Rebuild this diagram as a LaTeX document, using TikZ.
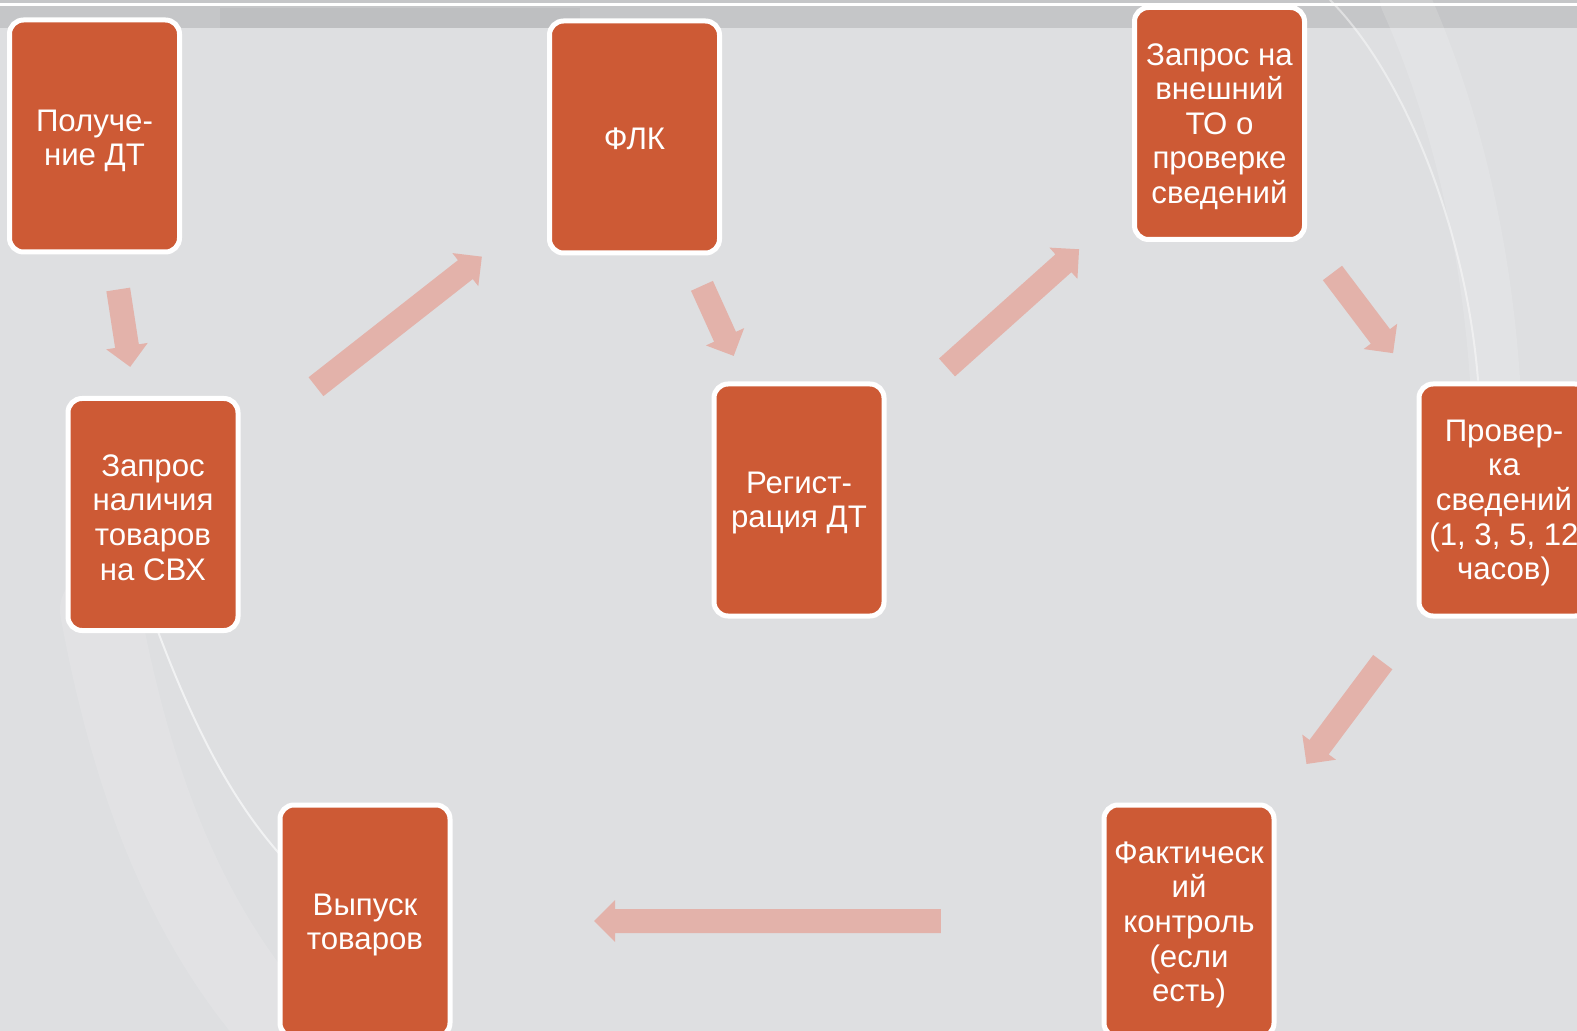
\documentclass[tikz,border=0pt]{standalone}
\usepackage{fontspec}
\setmainfont{Liberation Sans}
\usetikzlibrary{calc}
\definecolor{bg}{HTML}{DEDFE1}
\definecolor{boxc}{HTML}{CD5A35}
\definecolor{arr}{HTML}{E3B2AA}
\definecolor{strip}{HTML}{C5C6C8}
\newcommand\blockarrow[2]{%
  \fill[arr] let \p1=($(#2)-(#1)$), \n1={atan2(\y1,\x1)} in
    ($(#1)+(\n1+90:6pt)$) --
    ($(#2)+(\n1+180:10.5pt)+(\n1+90:6pt)$) --
    ($(#2)+(\n1+180:10.5pt)+(\n1+90:10.5pt)$) --
    (#2) --
    ($(#2)+(\n1+180:10.5pt)+(\n1-90:10.5pt)$) --
    ($(#2)+(\n1+180:10.5pt)+(\n1-90:6pt)$) --
    ($(#1)+(\n1-90:6pt)$) -- cycle;}
\begin{document}
\begin{tikzpicture}[x=0.5pt,y=-0.5pt,
  stepbox/.style={draw=white, line width=2.5pt, fill=boxc, rounded corners=7pt,
    minimum width=85pt, minimum height=116pt, inner sep=0pt},
  steptext/.style={inner sep=0pt, align=center, text=white,
    font=\fontsize{15.6pt}{17.3pt}\selectfont},
  glow/.style={draw=white, line cap=round}]
\useasboundingbox (0,0) rectangle (1577,1031);
\clip (0,0) rectangle (1577,1031);
% background
\fill[bg] (0,0) rectangle (1577,1031);
\fill[strip] (0,0) rectangle (1577,28);
\fill[strip!92!black, opacity=0.4] (220,8) rectangle (580,28);
\draw[white, line width=1.5pt] (0,5) -- (1577,5);
% faint arcs
\draw[glow, opacity=0.12, line width=40pt] (100,610) .. controls (135,800) and (195,940) .. (295,1045);
\draw[glow, opacity=0.6, line width=1pt] (150,610) .. controls (190,720) and (230,800) .. (285,860);
\draw[glow, opacity=0.14, line width=25pt] (1405,0) .. controls (1450,100) and (1485,230) .. (1495,380);
\draw[glow, opacity=0.45, line width=1pt] (1330,0) .. controls (1400,70) and (1465,220) .. (1478,380);
% boxes
\node[stepbox] (pol) at (94.5,136) {};
\node[stepbox] (flk) at (634.5,137) {};
\node[stepbox] (zvn) at (1219.5,123.5) {};
\node[stepbox] (zsvh) at (153,514.5) {};
\node[stepbox] (reg) at (799,500) {};
\node[stepbox] (prov) at (1504,500) {};
\node[stepbox] (fk) at (1189,921) {};
\node[stepbox] (vyp) at (365,921) {};
% texts
\node[steptext] (pol-t) at ([yshift=-2.5pt]pol.center) {Получе-\\ние ДТ};
\node[steptext] (flk-t) at ([yshift=-1pt]flk.center) {ФЛК};
\node[steptext] (zvn-t) at ([yshift=-1.5pt]zvn.center) {Запрос на\\внешний\\ТО о\\проверке\\сведений};
\node[steptext] (zsvh-t) at ([yshift=-1.5pt]zsvh.center) {Запрос\\наличия\\товаров\\на СВХ};
\node[steptext] (reg-t) at ([yshift=-1.5pt]reg.center) {Регист-\\рация ДТ};
\node[steptext] (prov-t) at ([yshift=-1.5pt]prov.center) {Провер-\\ка\\сведений\\(1, 3, 5, 12\\часов)};
\node[steptext] (fk-t) at ([yshift=-2pt]fk.center) {Фактическ\\ий\\контроль\\(если\\есть)};
\node[steptext] (vyp-t) at ([yshift=-2pt]vyp.center) {Выпуск\\товаров};
% arrow end points
\coordinate (a1s) at ($(pol)!0.4055!(zsvh)$);
\coordinate (a1e) at ($(pol)!0.610!(zsvh)$);
\coordinate (a2s) at ($(zsvh)!0.3385!(flk)$);
\coordinate (a2e) at ($(zsvh)!0.683!(flk)$);
\coordinate (a3s) at ($(flk)!0.41!(reg)$);
\coordinate (a3e) at ($(flk)!0.603!(reg)$);
\coordinate (a4s) at ($(reg)!0.352!(zvn)$);
\coordinate (a4e) at ($(reg)!0.666!(zvn)$);
\coordinate (a5s) at ($(zvn)!0.397!(prov)$);
\coordinate (a5e) at ($(zvn)!0.61!(prov)$);
\coordinate (a6s) at ($(prov)!0.385!(fk)$);
\coordinate (a6e) at ($(prov)!0.627!(fk)$);
\coordinate (a7s) at ($(fk)!0.301!(vyp)$);
\coordinate (a7e) at ($(fk)!0.722!(vyp)$);
\blockarrow{a1s}{a1e}
\blockarrow{a2s}{a2e}
\blockarrow{a3s}{a3e}
\blockarrow{a4s}{a4e}
\blockarrow{a5s}{a5e}
\blockarrow{a6s}{a6e}
\blockarrow{a7s}{a7e}
\end{tikzpicture}
\end{document}
